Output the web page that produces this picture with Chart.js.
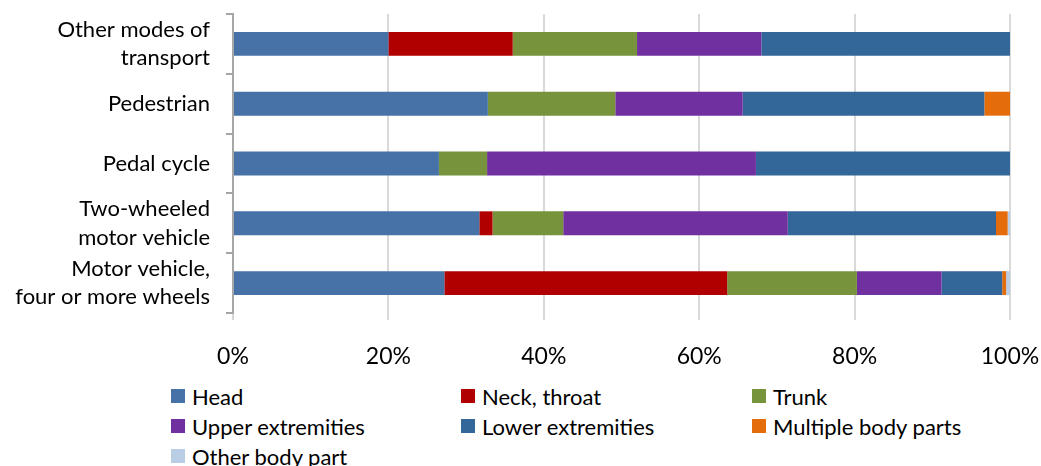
<!DOCTYPE html>
<html lang="en">
<head>
  <meta charset="UTF-8">
  <title>Injured body part by mode of transport</title>
  <script src="https://cdn.jsdelivr.net/npm/chart.js@4/dist/chart.umd.min.js"></script>
  <style>
    html, body { margin: 0; padding: 0; background: #fff; }
    body { width: 1041px; height: 466px; overflow: hidden; font-family: Lato, "Noto Sans", sans-serif; }
    .chart-box { position: relative; width: 1041px; height: 375px; }
    #legend { position: absolute; left: 171px; top: 381px; display: grid;
      grid-template-columns: 290px 291px 280px; grid-auto-rows: 30px; color: #000; font-size: 22px; }
    #legend div { display: flex; align-items: center; white-space: nowrap; }
    #legend span.box { display: inline-block; width: 14px; height: 14px; margin-right: 7px; }
  </style>
</head>
<body>
<div class="chart-box">
  <canvas id="chart"></canvas>
</div>
<div id="legend"></div>

<script>
  // categories, top to bottom
  var categories = [
    ['Other modes of', 'transport'],
    'Pedestrian',
    'Pedal cycle',
    ['Two-wheeled', 'motor vehicle'],
    ['Motor vehicle,', 'four or more wheels']
  ];

  var seriesNames = ['Head', 'Neck, throat', 'Trunk', 'Upper extremities',
    'Lower extremities', 'Multiple body parts', 'Other body part'];
  var seriesColors = ['#4672A8', '#B00000', '#77933C', '#7030A0', '#336699', '#E46C0A', '#B9CDE5'];

  // percent share per category (same order as categories)
  var head      = [20.0, 32.8, 26.5, 31.7, 27.2];
  var neck      = [16.0,  0.0,  0.0,  1.7, 36.4];
  var trunk     = [16.0, 16.4,  6.2,  9.1, 16.7];
  var upper     = [16.0, 16.4, 34.6, 28.9, 10.9];
  var lower     = [32.0, 31.1, 32.7, 26.8,  7.8];
  var multiple  = [ 0.0,  3.3,  0.0,  1.5,  0.5];
  var otherPart = [ 0.0,  0.0,  0.0,  0.3,  0.5];

  var xTicks = [0, 20, 40, 60, 80, 100];

  var seriesData = [head, neck, trunk, upper, lower, multiple, otherPart];
  var family = 'Lato, "Noto Sans", sans-serif';

  var datasets = seriesNames.map(function(name, i) {
    return {
      label: name,
      data: seriesData[i],
      backgroundColor: seriesColors[i],
      borderWidth: 0,
      barPercentage: 0.4,
      categoryPercentage: 1
    };
  });

  new Chart(document.getElementById('chart'), {
    type: 'bar',
    data: { labels: categories, datasets: datasets },
    options: {
      indexAxis: 'y',
      responsive: true,
      maintainAspectRatio: false,
      animation: false,
      layout: { padding: { top: 14, right: 31 } },
      plugins: { legend: { display: false }, tooltip: { enabled: false } },
      scales: {
        x: {
          stacked: true,
          min: 0,
          max: 100,
          afterBuildTicks: function(axis) {
            axis.ticks = xTicks.map(function(v) { return { value: v }; });
          },
          border: { display: false },
          grid: { color: '#D9D9D9', lineWidth: 2, tickLength: 7 },
          ticks: {
            color: '#000',
            font: { family: family, size: 23 },
            padding: 23,
            maxRotation: 0,
            callback: function(v) { return v + '%'; }
          },
          afterFit: function(axis) {
            axis.height = 62;
            axis.paddingLeft = 0;
            axis.paddingRight = 0;
          }
        },
        y: {
          stacked: true,
          border: { color: '#A6A6A6', width: 2 },
          grid: { drawOnChartArea: false, color: '#A6A6A6', lineWidth: 2, tickLength: 7, offset: true },
          ticks: { color: '#000', font: { family: family, size: 22, lineHeight: 1.3 }, padding: 16, autoSkip: false },
          afterFit: function(axis) {
            axis.width = 233;
            axis.paddingTop = 0;
            axis.paddingBottom = 0;
          }
        }
      }
    }
  });

  // legend in three columns, like the reference
  var legend = document.getElementById('legend');
  seriesNames.forEach(function(name, i) {
    var item = document.createElement('div');
    item.innerHTML = '<span class="box" style="background:' + seriesColors[i] + '"></span>' + name;
    legend.appendChild(item);
  });
</script>
</body>
</html>
